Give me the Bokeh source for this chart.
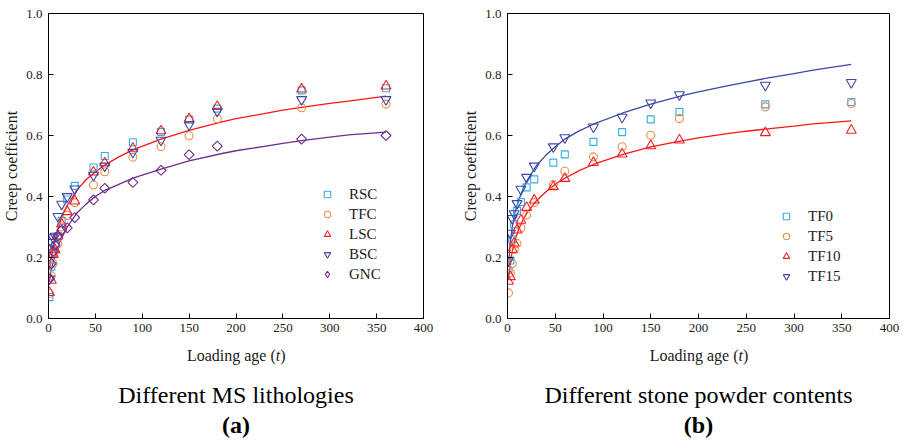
import math
from bokeh.plotting import figure
from bokeh.layouts import row, column
from bokeh.models import Range1d, FixedTicker, NumeralTickFormatter
from bokeh.core.properties import value
from bokeh.embed import file_html
from bokeh.resources import INLINE

FONT = "Liberation Serif"

# ---------------- data ----------------
t_days = [1, 3, 5, 7, 10, 14, 20, 28, 48, 60, 90, 120, 150, 180, 270, 360]

# (a) different MS lithologies
rsc = [0.07, 0.17, 0.21, 0.24, 0.27, 0.32, 0.39, 0.435, 0.495, 0.533, 0.578, 0.612, 0.652, 0.688, 0.748, 0.755]
tfc = [0.082, 0.14, 0.18, 0.22, 0.245, 0.30, 0.338, 0.38, 0.438, 0.481, 0.529, 0.564, 0.599, 0.655, 0.691, 0.703]
lsc = [0.085, 0.125, 0.21, 0.225, 0.27, 0.31, 0.35, 0.385, 0.48, 0.51, 0.558, 0.615, 0.655, 0.695, 0.752, 0.762]
bsc = [0.13, 0.25, 0.265, 0.27, 0.335, 0.375, 0.40, 0.425, 0.47, 0.50, 0.545, 0.585, 0.635, 0.68, 0.718, 0.718]
gnc = [0.13, 0.18, 0.22, 0.24, 0.27, 0.29, 0.297, 0.331, 0.389, 0.427, 0.446, 0.486, 0.537, 0.565, 0.588, 0.600]

# fitted curves
curve_t = [1, 3, 5, 8, 12, 15, 20, 30, 40, 50, 60, 75, 90, 120, 150, 185, 200, 230, 250, 270, 300, 320, 360]
fit_a_red = [0.16, 0.20, 0.23, 0.27, 0.31, 0.34, 0.37, 0.42, 0.455, 0.48, 0.503, 0.53, 0.553, 0.588, 0.617,
             0.645, 0.655, 0.672, 0.683, 0.692, 0.705, 0.713, 0.729]
fit_a_purple = [0.12, 0.16, 0.185, 0.215, 0.25, 0.27, 0.30, 0.345, 0.375, 0.40, 0.42, 0.44, 0.46, 0.49, 0.517,
                0.541, 0.55, 0.564, 0.574, 0.583, 0.595, 0.602, 0.611]

# (b) different stone powder contents
tf0 = [0.158, 0.19, 0.259, 0.309, 0.353, 0.382, 0.43, 0.456, 0.511, 0.538, 0.579, 0.611, 0.653, 0.677, 0.702, 0.710]
tf5 = [0.084, 0.15, 0.18, 0.226, 0.246, 0.297, 0.339, 0.38, 0.439, 0.483, 0.530, 0.563, 0.601, 0.656, 0.694, 0.705]
tf10 = [0.122, 0.137, 0.226, 0.247, 0.29, 0.322, 0.364, 0.388, 0.432, 0.459, 0.511, 0.539, 0.566, 0.585, 0.609, 0.617]
tf15 = [0.19, 0.28, 0.328, 0.344, 0.377, 0.424, 0.463, 0.500, 0.563, 0.593, 0.628, 0.66, 0.707, 0.734, 0.765, 0.774]

fit_b_blue = [0.17, 0.25, 0.30, 0.35, 0.39, 0.415, 0.45, 0.50, 0.535, 0.563, 0.588, 0.615, 0.637, 0.673, 0.703,
              0.732, 0.743, 0.763, 0.775, 0.787, 0.803, 0.814, 0.833]
fit_b_red = [0.13, 0.185, 0.22, 0.26, 0.295, 0.315, 0.345, 0.385, 0.415, 0.44, 0.46, 0.485, 0.505, 0.537, 0.563,
             0.584, 0.592, 0.606, 0.614, 0.621, 0.631, 0.638, 0.648]

x_ticks = [0, 50, 100, 150, 200, 250, 300, 350, 400]
y_ticks = [0.0, 0.2, 0.4, 0.6, 0.8, 1.0]

C_LBLUE = "#34ACE4"
C_ORANGE = "#EE8C44"
C_RED = "#F2222C"
C_DBLUE = "#3D47A6"
C_PURPLE = "#6F2C8E"
C_LINE_RED = "#FF1414"
TXT = "#1a1a1a"

PLOT_H = 338      # height of the chart part
CAP_H = 441 - PLOT_H


def base_fig(border_left, border_right):
    p = figure(width=452, height=PLOT_H, output_backend="svg", toolbar_location=None,
               x_range=Range1d(0, 400), y_range=Range1d(0, 1.0),
               min_border_left=border_left, min_border_right=border_right,
               min_border_top=13, min_border_bottom=PLOT_H - 318)
    p.xgrid.visible = False
    p.ygrid.visible = False
    p.outline_line_color = "black"
    p.outline_line_width = 1
    p.background_fill_color = "white"
    p.border_fill_color = "white"
    for ax in (p.xaxis[0], p.yaxis[0]):
        ax.axis_line_color = "black"
        ax.major_tick_in = 5
        ax.major_tick_out = 0
        ax.minor_tick_in = 0
        ax.minor_tick_out = 0
        ax.major_tick_line_color = "black"
        ax.major_label_text_font = FONT
        ax.major_label_text_font_size = "13px"
        ax.major_label_text_color = TXT
        ax.axis_label_text_font = FONT
        ax.axis_label_text_font_size = "16px"
        ax.axis_label_text_font_style = "normal"
        ax.axis_label_text_color = TXT
    p.xaxis.ticker = FixedTicker(ticks=x_ticks)
    p.yaxis.ticker = FixedTicker(ticks=y_ticks)
    p.yaxis.formatter = NumeralTickFormatter(format="0.0")
    p.xaxis.major_label_standoff = 5
    p.yaxis.major_label_standoff = 6
    p.yaxis.axis_label = "Creep coefficient"
    p.yaxis.axis_label_standoff = 3
    return p


def caption_fig(border_left, border_right, px_per_unit, caption, tag):
    # a strip below the chart holding the x-axis title and the captions;
    # x in the chart's data units, y in page pixels measured from the top
    c = figure(width=452, height=CAP_H, output_backend="svg", toolbar_location=None,
               x_range=Range1d(0, 400), y_range=Range1d(441, PLOT_H),
               min_border_left=border_left, min_border_right=border_right,
               min_border_top=0, min_border_bottom=0,
               x_axis_location=None, y_axis_location=None)
    c.xgrid.visible = False
    c.ygrid.visible = False
    c.outline_line_color = None
    c.background_fill_color = "white"
    c.border_fill_color = "white"
    xr = 200 + 40.0 / px_per_unit
    y_ax, y_cap, y_tag = 355.0, 394.0, 424.0
    c.text(x=[xr], y=[y_ax], text=["Loading age ("], text_align="right",
           text_baseline="alphabetic", text_font=value(FONT), text_font_size="16px",
           text_color=TXT)
    c.text(x=[xr], y=[y_ax], text=["t"], text_align="left",
           text_baseline="alphabetic", text_font=value(FONT), text_font_size="16px",
           text_font_style="italic", text_color=TXT)
    c.text(x=[xr + 4.6 / px_per_unit], y=[y_ax], text=[")"], text_align="left",
           text_baseline="alphabetic", text_font=value(FONT), text_font_size="16px",
           text_color=TXT)
    c.text(x=[200], y=[y_cap], text=[caption], text_align="center",
           text_baseline="alphabetic", text_font=value(FONT), text_font_size="24px",
           text_color="black")
    c.text(x=[200], y=[y_tag], text=[tag], text_align="center",
           text_baseline="alphabetic", text_font=value(FONT), text_font_size="24px",
           text_font_style="bold", text_color="black")
    return c


def style_legend(p, loc):
    lg = p.legend[0]
    lg.location = loc
    lg.label_text_font = FONT
    lg.label_text_font_size = "15px"
    lg.label_text_color = TXT
    lg.glyph_width = 16
    lg.glyph_height = 20
    lg.label_height = 20
    lg.spacing = 0
    lg.padding = 0
    lg.margin = 0
    lg.label_standoff = 14
    lg.border_line_color = None
    lg.background_fill_alpha = 0


mk = dict(fill_color=None, line_width=1.1)

# ---------------- (a) ----------------
pa = base_fig(46, 29)
pa.line(curve_t, fit_a_red, line_color=C_LINE_RED, line_width=1.3)
pa.line(curve_t, fit_a_purple, line_color=C_PURPLE, line_width=1.3)
pa.scatter(t_days, rsc, marker="square", size=7, line_color=C_LBLUE, legend_label="RSC", **mk)
pa.scatter(t_days, tfc, marker="circle", size=8, line_color=C_ORANGE, legend_label="TFC", **mk)
pa.scatter(t_days, lsc, marker="triangle", size=10, line_color=C_RED, legend_label="LSC", **mk)
pa.scatter(t_days, bsc, marker="inverted_triangle", size=10, line_color=C_DBLUE, legend_label="BSC", **mk)
pa.scatter(t_days, gnc, marker="square", angle=math.pi / 4, size=7, line_color=C_PURPLE, **mk)
# legend symbol for GNC (diamond); its single point is NaN so nothing is drawn in the plot
pa.scatter([float("nan")], [float("nan")], marker="diamond", size=11, line_color=C_PURPLE,
           legend_label="GNC", **mk)
style_legend(pa, (271, 34))
ca = caption_fig(46, 29, 377 / 400, "Different MS lithologies", "(a)")

# ---------------- (b) ----------------
pb = base_fig(55, 15)
pb.line(curve_t, fit_b_blue, line_color=C_DBLUE, line_width=1.3)
pb.line(curve_t, fit_b_red, line_color=C_LINE_RED, line_width=1.3)
pb.scatter(t_days, tf0, marker="square", size=7, line_color=C_LBLUE, legend_label="TF0", **mk)
pb.scatter(t_days, tf5, marker="circle", size=8, line_color=C_ORANGE, legend_label="TF5", **mk)
pb.scatter(t_days, tf10, marker="triangle", size=10, line_color=C_RED, legend_label="TF10", **mk)
pb.scatter(t_days, tf15, marker="inverted_triangle", size=10, line_color=C_DBLUE, legend_label="TF15", **mk)
style_legend(pb, (271, 32))
cb = caption_fig(55, 15, 382 / 400, "Different stone powder contents", "(b)")

layout = row(column(pa, ca, spacing=0), column(pb, cb, spacing=0), spacing=0)
open("out.html", "w").write(file_html(layout, INLINE))
